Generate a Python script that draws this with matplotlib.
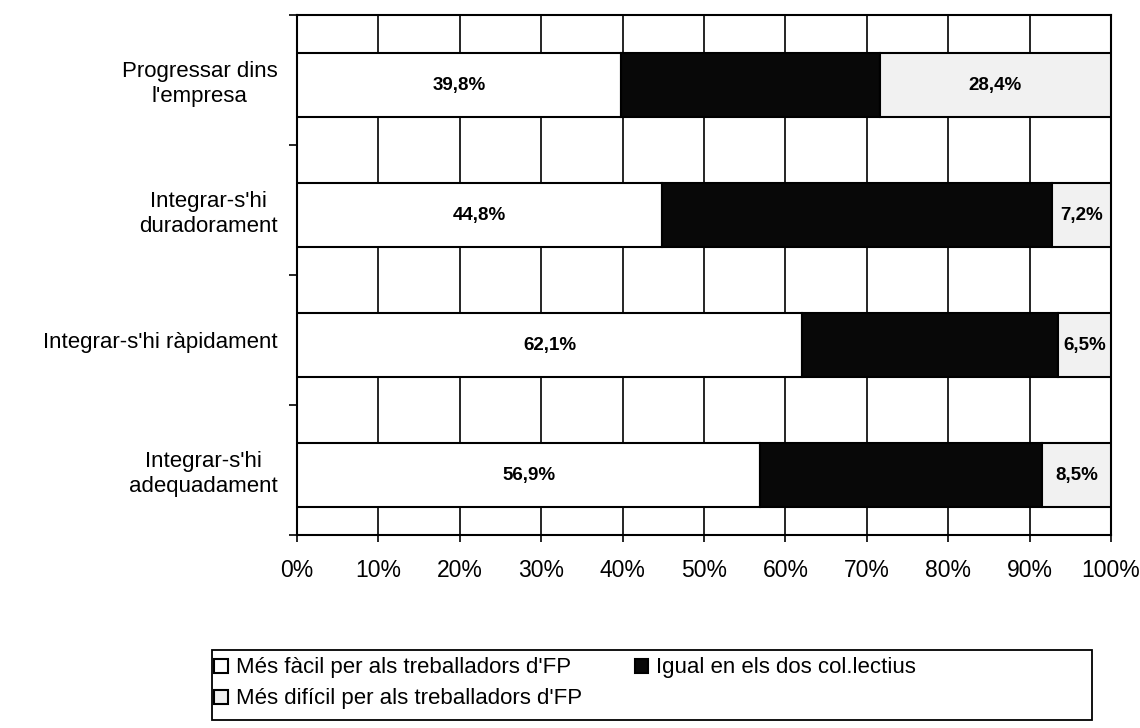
import matplotlib.pyplot as plt
from matplotlib.patches import Rectangle
import numpy as np

plt.rcParams['font.family'] = ['Liberation Sans', 'DejaVu Sans']

categories = ["Progressar dins\nl'empresa", "Integrar-s'hi\nduradorament",
              "Integrar-s'hi ràpidament", "Integrar-s'hi\nadequadament"]
facil = [39.8, 44.8, 62.1, 56.9]
dificil = [28.4, 7.2, 6.5, 8.5]
igual = [100 - a - b for a, b in zip(facil, dificil)]
series_names = ["Més fàcil per als treballadors d'FP",
                "Igual en els dos col.lectius",
                "Més difícil per als treballadors d'FP"]
xticks = list(range(0, 101, 10))

fig = plt.figure(figsize=(11.4, 7.28), dpi=100)
ax = fig.add_axes([297/1140, 1-535/728, (1111-297)/1140, (535-15)/728])

y = np.arange(len(categories))
yb = y + 0.04  # bars sit a little below the label centre
h = 0.49
b1 = ax.barh(yb, facil, height=h, color='white', edgecolor='black', linewidth=1.5, zorder=3)
b2 = ax.barh(yb, igual, left=facil, height=h, color='#080808', edgecolor='black', linewidth=1.5, zorder=3)
left3 = [a + b for a, b in zip(facil, igual)]
b3 = ax.barh(yb, dificil, left=left3, height=h, color='#f1f1f1', edgecolor='black', linewidth=1.5, zorder=3)

for i in range(len(categories)):
    ax.text(facil[i] / 2, yb[i], f"{facil[i]:.1f}%".replace('.', ','), ha='center', va='center',
            fontsize=13.5, fontweight='bold', zorder=4)
    ax.text(left3[i] + dificil[i] / 2, yb[i], f"{dificil[i]:.1f}%".replace('.', ','), ha='center',
            va='center', fontsize=13.5, fontweight='bold', zorder=4)
    ax.axhline(yb[i] - h / 2, color='black', linewidth=1.2, zorder=2)
    ax.axhline(yb[i] + h / 2, color='black', linewidth=1.2, zorder=2)

ax.set_xlim(0, 100)
ax.set_ylim(len(categories) - 0.5, -0.5)
ax.set_xticks(xticks)
ax.set_xticklabels([f"{t}%" for t in xticks], fontsize=16.5)
ax.xaxis.grid(True, color='black', linewidth=1.2, zorder=1)
ax.tick_params(axis='x', length=5, width=1.2, pad=12)

ax.set_yticks(y)
ax.set_yticklabels(categories, fontsize=16, multialignment='center')
ax.tick_params(axis='y', which='major', length=0, pad=14)
ax.set_yticks(np.arange(-0.5, len(categories)), minor=True)
ax.tick_params(axis='y', which='minor', length=6, width=1.2)

for s in ax.spines.values():
    s.set_linewidth(1.5)

# legend frame
fig.patches.append(Rectangle((212/1140, 1-720/728), (1092-212)/1140, 70/728,
                             transform=fig.transFigure, fill=False,
                             edgecolor='black', linewidth=1.3))
fig.legend([b1, b3, b2], [series_names[0], series_names[2], series_names[1]],
           ncol=2, loc='upper left', bbox_to_anchor=(210/1140, 1-653/728),
           frameon=False, fontsize=16, handlelength=0.6, handleheight=0.6,
           handletextpad=0.35, columnspacing=2.4, labelspacing=0.45,
           borderaxespad=0, borderpad=0.2)

fig.savefig('out.png', dpi=100)
